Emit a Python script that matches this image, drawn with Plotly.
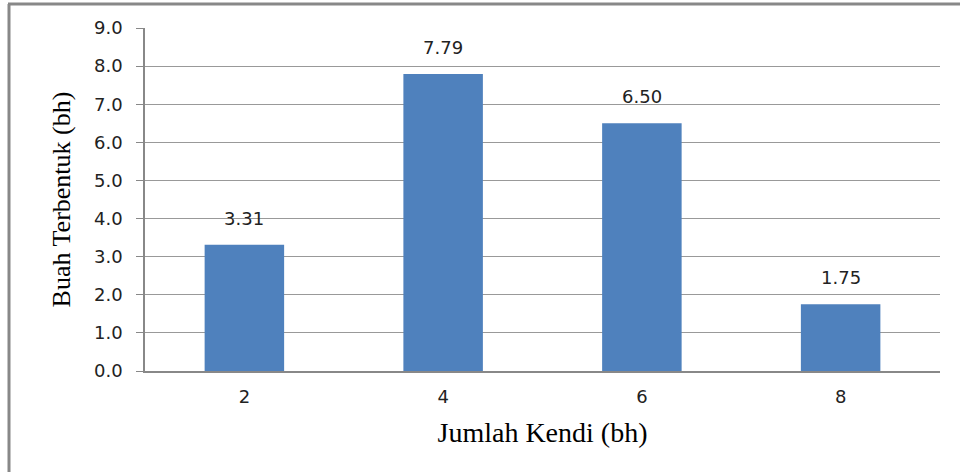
import plotly.graph_objects as go

categories = ["2", "4", "6", "8"]
values = [3.31, 7.79, 6.50, 1.75]
labels = ["3.31", "7.79", "6.50", "1.75"]
y_ticks = [0, 1, 2, 3, 4, 5, 6, 7, 8, 9]

L, R, T, B = 145, 20, 28, 101
W, H = 960, 472
pw, ph = W - L - R, H - T - B

def px(x):
    return (x - L) / pw

def py(y):
    return (H - B - y) / ph

fig = go.Figure()
fig.add_trace(go.Bar(x=categories, y=values, width=0.4,
                     marker=dict(color="#4F81BD", line=dict(width=0))))

for i, (v, t) in enumerate(zip(values, labels)):
    fig.add_annotation(x=i, y=v, text=t, showarrow=False, yanchor="bottom", yshift=14,
                       font=dict(family="DejaVu Sans", size=18, color="#222"))

tick_font = dict(family="DejaVu Sans", size=18, color="#222")

fig.update_layout(
    width=W, height=H, margin=dict(l=L, r=R, t=T, b=B),
    paper_bgcolor="white", plot_bgcolor="white", showlegend=False,
    xaxis=dict(type="category", range=[-0.5, 3.5],
               title=dict(text="Jumlah Kendi (bh)",
                          font=dict(family="Liberation Serif", size=28, color="#000"),
                          standoff=16),
               tickfont=tick_font, showline=True, linecolor="#888", linewidth=1.5,
               showgrid=False, ticks="", ticklabelstandoff=9),
    yaxis=dict(title=dict(text="Buah Terbentuk (bh)",
                          font=dict(family="Liberation Serif", size=26, color="#000"),
                          standoff=16),
               tickfont=tick_font, range=[0, 9], tickvals=y_ticks, tickformat=".1f",
               showline=True, linecolor="#888", linewidth=1.5,
               gridcolor="#999", gridwidth=1.2, ticks="outside", ticklen=7,
               tickcolor="#888", zeroline=False, ticklabelstandoff=10),
    shapes=[
        dict(type="line", xref="paper", yref="paper", x0=px(9), x1=px(9),
             y0=py(4), y1=py(480), line=dict(color="#888", width=3)),
        dict(type="line", xref="paper", yref="paper", x0=px(8), x1=px(970),
             y0=py(4), y1=py(4), line=dict(color="#888", width=3)),
    ],
)
fig.write_html("out.html")
